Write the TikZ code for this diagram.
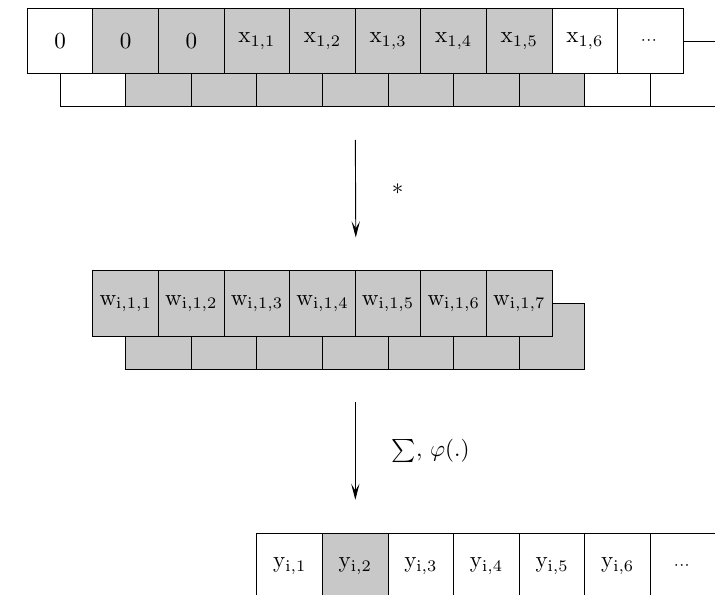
\documentclass[tikz,border=0pt]{standalone}
\usepackage{tikz}
\usepackage{amsmath}
\usepackage{xcolor}
\usetikzlibrary{positioning,arrows.meta}
\definecolor{cellgray}{RGB}{200,200,200}

\tikzset{
  cell/.style={draw, minimum size=1cm, inner sep=0pt, anchor=north west},
  flow/.style={-{Stealth[length=7pt, width=3.6pt, inset=3pt]}, thin},
}

\begin{document}
\begin{tikzpicture}
% Page frame; the right and bottom rows run off it
\path[use as bounding box, clip] (-0.41,0.12) rectangle (10.49,-8.95);

% Input: shifted copy behind, then the zero-padded row
\foreach \k/\fc in {0/white, 1/cellgray, 2/cellgray, 3/cellgray, 4/cellgray, 5/cellgray, 6/cellgray, 7/cellgray, 8/white, 9/white} {
    \node[cell, fill=\fc] (xs\k) at (\k+0.5,-0.5) {};
}
\foreach \k/\lbl/\fc in {0/0/white, 1/0/cellgray, 2/0/cellgray, 3/{\mathrm{x}_{1,1}}/cellgray, 4/{\mathrm{x}_{1,2}}/cellgray, 5/{\mathrm{x}_{1,3}}/cellgray, 6/{\mathrm{x}_{1,4}}/cellgray, 7/{\mathrm{x}_{1,5}}/cellgray, 8/{\mathrm{x}_{1,6}}/white, 9/{\scriptstyle\cdots}/white} {
    \node[cell, fill=\fc] (x\k) at (\k,0) {$\lbl$};
}

% Kernel weights
\foreach \k in {0,...,6} {
    \node[cell, fill=cellgray] (ws\k) at (\k+1.5,-4.5) {};
}
\foreach \k in {0,...,6} {
    \pgfmathtruncatemacro{\j}{\k+1}
    \node[cell, fill=cellgray] (w\k) at (\k+1,-4) {$\mathrm{w}_{\mathrm{i},1,\j}$};
}

% Output feature map
\foreach \k/\lbl/\fc in {0/{\mathrm{y}_{\mathrm{i},1}}/white, 1/{\mathrm{y}_{\mathrm{i},2}}/cellgray, 2/{\mathrm{y}_{\mathrm{i},3}}/white, 3/{\mathrm{y}_{\mathrm{i},4}}/white, 4/{\mathrm{y}_{\mathrm{i},5}}/white, 5/{\mathrm{y}_{\mathrm{i},6}}/white, 6/{\scriptstyle\cdots}/white} {
    \node[cell, fill=\fc] (y\k) at (\k+3.5,-8) {$\lbl$};
}

% Arrows between the stages
\coordinate[below=0.5cm of xs4.south] (convtop);
\coordinate[above=0.5cm of w3.north east] (convbot);
\coordinate[below=0.5cm of ws3.south] (acttop);
\coordinate[above=0.5cm of y1.north] (actbot);

\draw[flow] (convtop) -- (convbot) node[midway, right=0.43cm] {$*$};
\draw[flow] (acttop) -- (actbot) node[midway, right=0.43cm] {$\sum,\,\varphi(.)$};

\end{tikzpicture}
\end{document}
